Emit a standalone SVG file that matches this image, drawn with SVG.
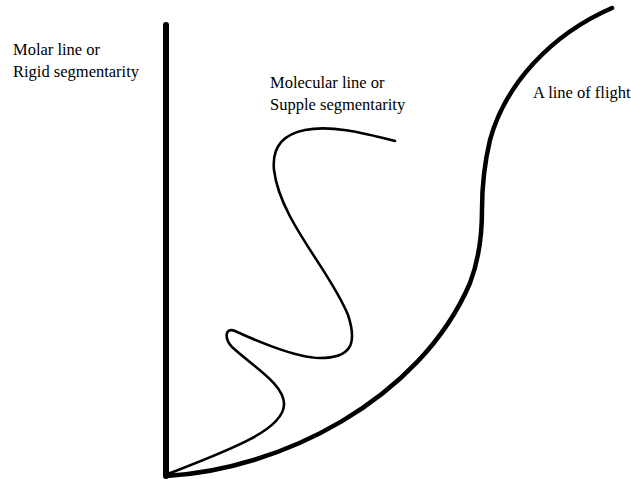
<svg xmlns="http://www.w3.org/2000/svg" width="631" height="479" viewBox="0 0 631 479">
<style>
text{font-family:"Liberation Serif","Times New Roman",serif;font-size:16.5px;fill:#000}
.ln{fill:none;stroke:#000;stroke-linecap:round;stroke-linejoin:round}
</style>
<rect width="631" height="479" fill="#fff"/>
<g id="connectors">
<path id="molar" class="ln" stroke-width="6" d="M166,25 L166,476"/>
<path id="flight" class="ln" stroke-width="4.5" d="M166,476 C280,470 420,400 470,283 C478,262 482,235 482,210 C482,185 484,165 490,140 C505,85 550,35 612,8"/>
<path id="molecular" class="ln" stroke-width="2.6" d="M395,141 C360,132 330,125 305,130 C280,135 272,150 274,170 C280,220 330,270 348,315 C358,345 350,358 320,358 C295,358 250,338 235,331 C225,327 224,338 232,347 C255,368 285,385 284,405 C283,430 230,450 168,474"/>
</g>
<g id="label-molar"><text x="13" y="55">Molar line or</text><text x="13" y="77">Rigid segmentarity</text></g>
<g id="label-molecular"><text x="270" y="88">Molecular line or</text><text x="270" y="110">Supple segmentarity</text></g>
<g id="label-flight"><text x="533" y="98">A line of flight</text></g>
</svg>
